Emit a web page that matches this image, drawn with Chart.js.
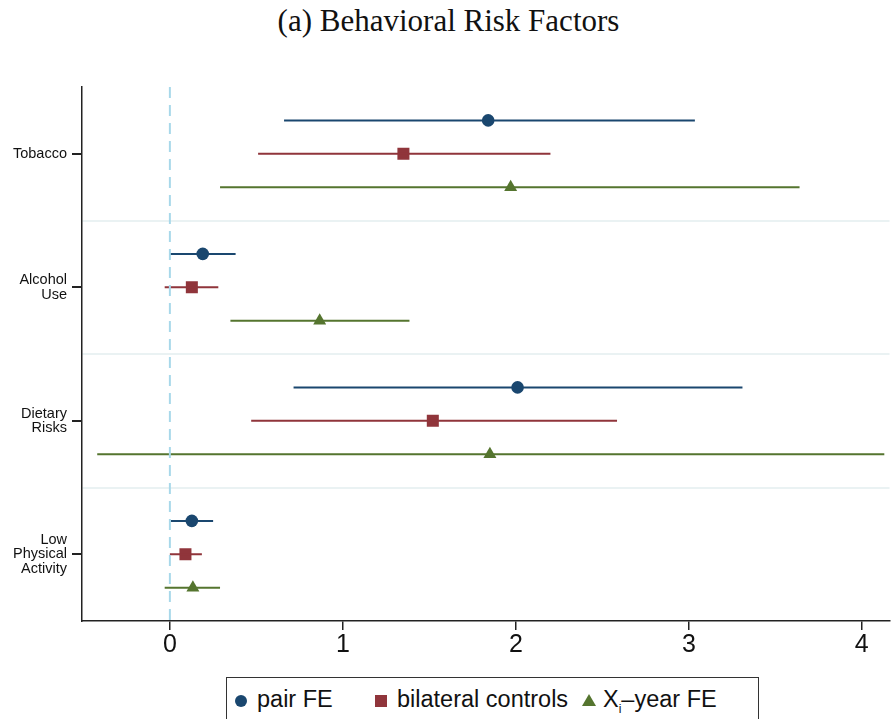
<!DOCTYPE html>
<html>
<head>
<meta charset="utf-8">
<script src="https://cdn.jsdelivr.net/npm/chart.js@4"></script>
<style>
body { margin: 0; background: #fff; width: 891px; height: 719px; overflow: hidden; position: relative; }
#title { position: absolute; top: 3px; left: 3px; width: 891px; text-align: center; font-family: "Liberation Serif", serif; font-size: 31px; color: #111; }
#wrap { position: absolute; left: 0; top: 60px; width: 891px; height: 600px; overflow: hidden; }
#legend { position: absolute; left: 226px; top: 677px; width: 533px; height: 50px; border: 1px solid #333; box-sizing: border-box;
  font-family: "Liberation Sans", Arial, sans-serif; font-size: 23.5px; color: #111; }
#legend .it { position: absolute; top: 8px; white-space: nowrap; color: #111; }
#legend .mk { position: absolute; }
</style>
</head>
<body>
<div id="title">(a) Behavioral Risk Factors</div>
<div id="wrap"><canvas id="c" width="898" height="600"></canvas></div>
<div id="legend">
  <span class="mk" style="left:8px;top:17px;width:12px;height:12px;border-radius:50%;background:#1a476f"></span><span class="it" style="left:30px">pair FE</span>
  <span class="mk" style="left:148px;top:17px;width:12px;height:12px;background:#90353b"></span><span class="it" style="left:170px">bilateral controls</span>
  <span class="mk" style="left:355px;top:16px;width:0;height:0;border-left:7px solid transparent;border-right:7px solid transparent;border-bottom:12px solid #55752f"></span><span class="it" style="left:376px">X<sub style="font-size:12px;color:#111">i</sub>&ndash;year FE</span>
</div>
<script>
const categories = [['Tobacco'], ['Alcohol', 'Use'], ['Dietary', 'Risks'], ['Low', 'Physical', 'Activity']];
const seriesNames = ['pair FE', 'bilateral controls', 'Xi-year FE'];
// point estimates per category
const pairFE = [1.84, 0.19, 2.01, 0.127];
const bilateral = [1.35, 0.127, 1.52, 0.09];
const xiYearFE = [1.97, 0.866, 1.85, 0.133];
// confidence intervals
const pairLo = [0.66, 0.0, 0.715, 0.005];
const pairHi = [3.035, 0.38, 3.31, 0.25];
const bilatLo = [0.51, -0.03, 0.47, 0.0];
const bilatHi = [2.20, 0.28, 2.585, 0.185];
const xiLo = [0.29, 0.35, -0.42, -0.03];
const xiHi = [3.64, 1.385, 4.13, 0.29];
const xTicks = [0, 1, 2, 3, 4];

const colors = ['#1a476f', '#90353b', '#55752f'];
const styles = ['circle', 'rect', 'triangle'];
const radii = [6.3, 8.5, 7.5];
const offsets = [-0.25, 0, 0.25];
const est = [pairFE, bilateral, xiYearFE];
const lo = [pairLo, bilatLo, xiLo];
const hi = [pairHi, bilatHi, xiHi];

const datasets = [];
// zero reference line
datasets.push({
  type: 'scatter', showLine: true, data: [{x: 0, y: 0.5}, {x: 0, y: 4.5}],
  borderColor: '#a8d8ea', borderWidth: 2, borderDash: [11, 7], pointRadius: 0
});
for (let s = 0; s < 3; s++) {
  const seg = [];
  categories.forEach((c, i) => {
    const y = i + 1 + offsets[s];
    seg.push({x: lo[s][i], y: y}, {x: hi[s][i], y: y}, {x: null, y: null});
  });
  datasets.push({
    type: 'scatter', showLine: true, spanGaps: false, data: seg,
    borderColor: colors[s], borderWidth: 2, pointRadius: 0
  });
}
for (let s = 0; s < 3; s++) {
  datasets.push({
    type: 'scatter', label: seriesNames[s],
    data: categories.map((c, i) => ({x: est[s][i], y: i + 1 + offsets[s]})),
    backgroundColor: colors[s], borderColor: colors[s], borderWidth: 0,
    pointStyle: styles[s], pointRadius: radii[s], pointHoverRadius: radii[s]
  });
}

new Chart(document.getElementById('c'), {
  type: 'scatter',
  data: { datasets: datasets },
  options: {
    responsive: false, animation: false,
    layout: { padding: { top: 27, right: 0, left: 0, bottom: 0 } },
    plugins: { legend: { display: false }, tooltip: { enabled: false } },
    scales: {
      x: {
        type: 'linear', min: -0.508, max: 4.16,
        afterBuildTicks: ax => { ax.ticks = xTicks.map(v => ({value: v})); },
        grid: { display: true, drawOnChartArea: false, tickLength: 9, tickColor: '#222', lineWidth: 1.5 },
        border: { color: '#222', width: 1.5 },
        ticks: { color: '#111', font: { family: '"Liberation Sans Narrow", "Liberation Sans"', size: 25 }, padding: 0, maxRotation: 0 }
      },
      y: {
        type: 'linear', reverse: true, min: 0.5, max: 4.5,
        afterFit: ax => { ax.width = 82; },
        afterBuildTicks: ax => { ax.ticks = [1, 1.5, 2, 2.5, 3, 3.5, 4].map(v => ({value: v})); },
        grid: {
          tickLength: 10, lineWidth: 2,
          color: ctx => (ctx.tick && ctx.tick.value % 1 !== 0) ? '#eaf2f3' : 'rgba(0,0,0,0)',
          tickColor: ctx => (ctx.tick && ctx.tick.value % 1 === 0) ? '#222' : 'rgba(0,0,0,0)'
        },
        border: { color: '#222', width: 1.5 },
        ticks: {
          color: '#111', font: { family: 'Liberation Sans', size: 14.5, lineHeight: 1.0 }, padding: 5,
          callback: v => (v % 1 === 0) ? categories[v - 1] : ''
        }
      }
    }
  }
});
</script>
</body>
</html>
